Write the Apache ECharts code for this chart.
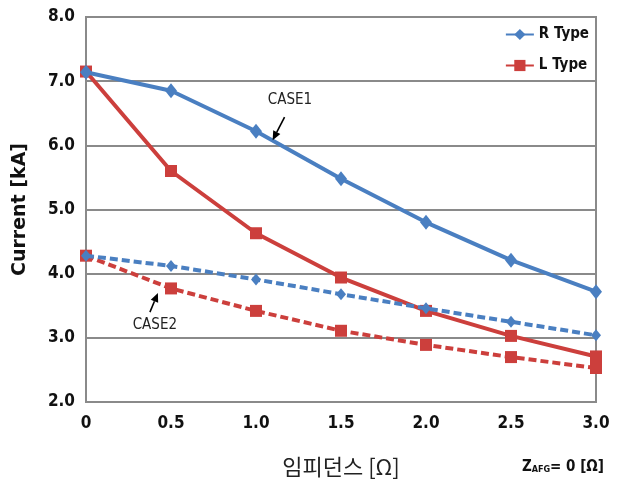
<!DOCTYPE html>
<html><head><meta charset="utf-8">
<script src="https://cdn.jsdelivr.net/npm/echarts@6/dist/echarts.min.js"></script>
<style>html,body{margin:0;padding:0;background:#fff}#c{width:618px;height:489px}</style>
</head><body><div id="c"></div>
<script>
const impedance = [0, 0.5, 1.0, 1.5, 2.0, 2.5, 3.0];
const rTypeCase1 = [7.14, 6.85, 6.22, 5.48, 4.80, 4.21, 3.72];
const lTypeCase1 = [7.15, 5.60, 4.63, 3.94, 3.42, 3.03, 2.71];
const rTypeCase2 = [4.28, 4.12, 3.91, 3.68, 3.46, 3.25, 3.04];
const lTypeCase2 = [4.28, 3.77, 3.42, 3.11, 2.89, 2.70, 2.53];
const seriesNames = ['R Type', 'L Type'];
const blue = '#4a7fc1', red = '#cc3f3c';
const numFont = "'Liberation Sans Narrow','DejaVu Sans Condensed',sans-serif";
const pair = arr => impedance.map((x, i) => [x, arr[i]]);
const chart = echarts.init(document.getElementById('c'));
chart.setOption({
  animation: false,
  backgroundColor: '#fff',
  grid: { left: 86, right: 22, top: 17, bottom: 87, show: true, borderColor: '#8a8a8a', borderWidth: 2 },
  legend: {
    data: seriesNames, orient: 'vertical', right: 24, top: 22, itemGap: 16,
    itemWidth: 28, itemHeight: 14,
    textStyle: { fontFamily: numFont, fontWeight: 'bold', fontSize: 15, color: '#111' }
  },
  xAxis: {
    type: 'value', min: 0, max: 3, interval: 0.5,
    axisLine: { show: true, lineStyle: { color: '#8a8a8a', width: 2 } },
    axisTick: { show: false }, splitLine: { show: false },
    axisLabel: { formatter: v => v === 0 ? '0' : v.toFixed(1), fontFamily: numFont, fontWeight: 'bold', fontSize: 17, color: '#111', margin: 13 },
    name: '임피던스 [Ω]', nameLocation: 'middle', nameGap: 54,
    nameTextStyle: { fontFamily: "'Noto Sans CJK KR'", fontSize: 22, color: '#222' }
  },
  yAxis: {
    type: 'value', min: 2, max: 8, interval: 1,
    axisLine: { show: true, lineStyle: { color: '#8a8a8a', width: 2 } },
    axisTick: { show: false },
    splitLine: { lineStyle: { color: '#8a8a8a', width: 2 } },
    axisLabel: { formatter: v => v.toFixed(1), fontFamily: numFont, fontWeight: 'bold', fontSize: 17, color: '#111', margin: 11 },
    name: 'Current [kA]', nameLocation: 'middle', nameGap: 56,
    nameTextStyle: { fontFamily: "'DejaVu Sans'", fontWeight: 'bold', fontSize: 19, color: '#111' }
  },
  series: [
    { name: seriesNames[0], type: 'line', data: pair(rTypeCase1), symbol: 'diamond', symbolSize: [12, 15],
      lineStyle: { color: blue, width: 4 }, itemStyle: { color: blue }, z: 4 },
    { name: seriesNames[1], type: 'line', data: pair(lTypeCase1), symbol: 'rect', symbolSize: 12,
      lineStyle: { color: red, width: 4 }, itemStyle: { color: red }, z: 3 },
    { name: 'R Type CASE2', type: 'line', data: pair(rTypeCase2), symbol: 'diamond', symbolSize: [10, 12],
      lineStyle: { color: blue, width: 4, type: [8, 4] }, itemStyle: { color: blue }, z: 4 },
    { name: 'L Type CASE2', type: 'line', data: pair(lTypeCase2), symbol: 'rect', symbolSize: 12,
      lineStyle: { color: red, width: 4, type: [8, 4] }, itemStyle: { color: red }, z: 3 }
  ]
});
function px(x, y) { return chart.convertToPixel({ gridIndex: 0 }, [x, y]); }
function arrow(tail, tip) {
  const a = px(tail[0], tail[1]), b = px(tip[0], tip[1]);
  const dx = b[0] - a[0], dy = b[1] - a[1], L = Math.hypot(dx, dy);
  const ux = dx / L, uy = dy / L, h = 9, w = 4;
  const base = [b[0] - ux * h, b[1] - uy * h];
  return [
    { type: 'line', shape: { x1: a[0], y1: a[1], x2: base[0], y2: base[1] }, style: { stroke: '#000', lineWidth: 1.6 }, z: 10 },
    { type: 'polygon', shape: { points: [b, [base[0] - uy * w, base[1] + ux * w], [base[0] + uy * w, base[1] - ux * w]] }, style: { fill: '#000' }, z: 10 }
  ];
}
const t1 = px(1.2, 6.71), t2 = px(0.405, 3.2);
const zPos = px(3.0, 2.0);
chart.setOption({
  graphic: [
    { type: 'text', x: t1[0], y: t1[1], style: { text: 'CASE1', fontFamily: numFont, fontSize: 15, fill: '#222', align: 'center', verticalAlign: 'middle' }, z: 10 },
    { type: 'text', x: t2[0], y: t2[1], style: { text: 'CASE2', fontFamily: numFont, fontSize: 15, fill: '#222', align: 'center', verticalAlign: 'middle' }, z: 10 },
    ...arrow([1.168, 6.44], [1.098, 6.08]),
    ...arrow([0.376, 3.40], [0.423, 3.70]),
    { type: 'text', x: zPos[0] + 8, y: zPos[1] + 65, style: {
        text: '{z|Z}{s|AFG}{z|= 0 [Ω]}', align: 'right', verticalAlign: 'middle',
        rich: { z: { fontFamily: numFont, fontWeight: 'bold', fontSize: 15, fill: '#111' },
                s: { fontFamily: numFont, fontWeight: 'bold', fontSize: 9, fill: '#111', verticalAlign: 'bottom', padding: [6, 0, 0, 0] } } } }
  ]
});
</script></body></html>
